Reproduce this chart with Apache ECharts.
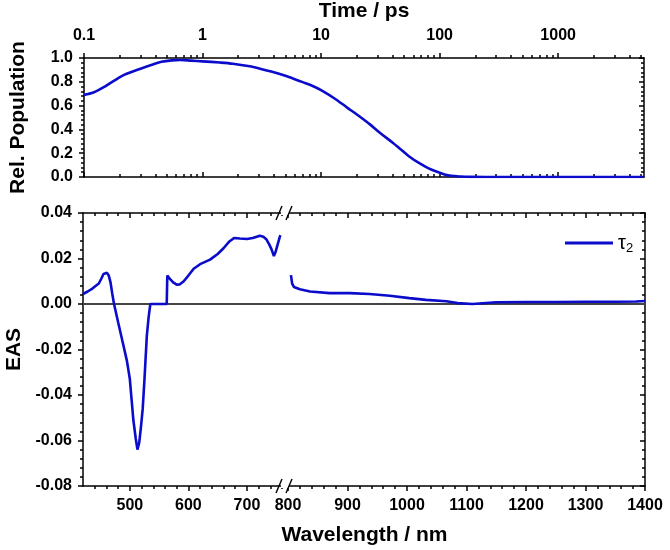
<!DOCTYPE html>
<html><head><meta charset="utf-8">
<script src="https://cdn.jsdelivr.net/npm/echarts@6/dist/echarts.min.js"></script>
<style>html,body{margin:0;padding:0;background:#fff}#c{width:670px;height:550px}</style>
</head><body><div id="c"></div>
<script>
// ---- data ----
const timePs = [0.1,0.12,0.15,0.18,0.22,0.3,0.38,0.45,0.55,0.65,0.8,1.0,1.4,1.8,2.5,3.0,4.0,5.0,6.0,7.0,8.5,10,13,16.5,21,26,31.5,40,46,55,68,80,95,110,125,150,180,250,5300];
const relPop = [0.69,0.71,0.76,0.81,0.86,0.91,0.945,0.968,0.98,0.983,0.978,0.972,0.962,0.952,0.93,0.912,0.88,0.85,0.822,0.797,0.765,0.73,0.66,0.585,0.51,0.44,0.37,0.29,0.24,0.175,0.114,0.075,0.044,0.022,0.01,0.004,0.001,0,0];

const wlVis = [420,428,436,442,447,451,455,458,461,464,467,470,473,480,488,495,500,503,506,510,513,516,519,522,525,529,532,535,563,564,568,574,580,585,592,600,609,620,637,650,660,670,678,688,700,710,722,728,733,738,742,746,749,752,757];
const easVis = [0.0044,0.0055,0.0068,0.0080,0.0090,0.0110,0.0132,0.0140,0.0137,0.0125,0.0095,0.0045,0,-0.008,-0.017,-0.025,-0.033,-0.042,-0.051,-0.059,-0.064,-0.061,-0.054,-0.046,-0.033,-0.014,-0.006,0,0,0.0125,0.0112,0.0095,0.0085,0.0086,0.0100,0.0125,0.0155,0.0175,0.0195,0.0220,0.0245,0.0275,0.0290,0.0288,0.0286,0.0290,0.0300,0.0296,0.0285,0.0262,0.0240,0.0211,0.0230,0.0258,0.0303];

const wlNir = [805,807,810,820,837,870,904,937,971,1004,1032,1066,1085,1088,1110,1113,1150,1200,1250,1300,1350,1385,1400];
const easNir = [0.0127,0.0090,0.0075,0.0065,0.0055,0.0048,0.0048,0.0044,0.0036,0.0026,0.0018,0.0012,0.0004,0,0,0.0008,0.0008,0.0009,0.0009,0.0010,0.0010,0.0011,0.0013];

const timeTicks = [0.1,1,10,100,1000];
const wlTicksVis = [500,600,700];
const wlTicksNir = [800,900,1000,1100,1200,1300,1400];
const popTickStep = 0.2;
const easTickStep = 0.02;

// ---- layout / style ----
const FONT = 'Liberation Sans, Arial, sans-serif';
const BLUE = '#0b0bcc';
const L = 83, R = 644, T0 = 57, B0 = 177, T1 = 213, B1 = 486, BRK = 285;
const TMIN = 0.1, TMAX = 5300;
const VIS = [420, 765], NIR = [795, 1400];

function logMinors(min, max) {
  const out = [];
  for (let d = min; d <= max; d *= 10) {
    for (let k = 2; k <= 9; k++) { const v = +(d * k).toPrecision(3); if (v <= max) out.push(v); }
  }
  return out;
}
function linMinors(majors, step, lo, hi) {
  const out = [];
  const s = Math.ceil(lo / step) * step;
  for (let v = s; v <= hi + 1e-9; v += step) {
    if (!majors.some(m => Math.abs(m - v) < 1e-6)) out.push(+v.toFixed(6));
  }
  return out;
}
const lbl = { fontFamily: FONT, fontSize: 16, fontWeight: 'bold', color: '#000' };
const axLine = { show: true, onZero: false, lineStyle: { color: '#000', width: 1.5 } };
const TICKW = 1.5;

function xAx(o) {
  return Object.assign({
    type: 'value', gridIndex: o.grid, position: o.pos, min: o.min, max: o.max,
    axisLine: o.line ? axLine : { show: false, onZero: false },
    axisTick: { show: true, customValues: o.ticks, length: o.len, inside: o.inside, lineStyle: { color: '#000', width: TICKW } },
    axisLabel: o.labels ? Object.assign({ show: true, customValues: o.labels, margin: o.margin || 12, formatter: o.fmt }, lbl) : { show: false },
    splitLine: { show: false }
  }, o.extra || {});
}

const tMin = logMinors(TMIN, TMAX);
const visMin = linMinors(wlTicksVis, 20, 440, 760);
const nirMin = linMinors(wlTicksNir, 20, 800, 1400);
const tFmt = v => String(+(+v).toPrecision(3));
const nFmt = v => String(Math.round(v));

const xAxes = [
  xAx({grid:0,pos:'top',min:TMIN,max:TMAX,line:true,ticks:timeTicks,len:5,inside:false,labels:timeTicks,fmt:tFmt,margin:14,
       extra:{type:'log',logBase:10,name:'Time / ps',nameLocation:'middle',nameGap:36,
              nameTextStyle:{fontFamily:FONT,fontSize:21,fontWeight:'bold',color:'#000'}}}),
  xAx({grid:0,pos:'top',min:TMIN,max:TMAX,line:false,ticks:tMin,len:3,inside:false,extra:{type:'log',logBase:10}}),
  xAx({grid:0,pos:'bottom',min:TMIN,max:TMAX,line:true,ticks:timeTicks,len:5,inside:true,extra:{type:'log',logBase:10}}),
  xAx({grid:0,pos:'bottom',min:TMIN,max:TMAX,line:false,ticks:tMin,len:3,inside:true,extra:{type:'log',logBase:10}}),
  xAx({grid:1,pos:'bottom',min:VIS[0],max:VIS[1],line:true,ticks:wlTicksVis,len:5,inside:false,labels:wlTicksVis,fmt:nFmt,margin:12}),
  xAx({grid:1,pos:'bottom',min:VIS[0],max:VIS[1],line:false,ticks:visMin,len:3,inside:false}),
  xAx({grid:1,pos:'top',min:VIS[0],max:VIS[1],line:true,ticks:wlTicksVis,len:5,inside:true}),
  xAx({grid:1,pos:'top',min:VIS[0],max:VIS[1],line:false,ticks:visMin,len:3,inside:true}),
  xAx({grid:2,pos:'bottom',min:NIR[0],max:NIR[1],line:true,ticks:wlTicksNir,len:5,inside:false,labels:wlTicksNir,fmt:nFmt,margin:12}),
  xAx({grid:2,pos:'bottom',min:NIR[0],max:NIR[1],line:false,ticks:nirMin,len:3,inside:false}),
  xAx({grid:2,pos:'top',min:NIR[0],max:NIR[1],line:true,ticks:wlTicksNir,len:5,inside:true}),
  xAx({grid:2,pos:'top',min:NIR[0],max:NIR[1],line:false,ticks:nirMin,len:3,inside:true})
];

function yAx(o) {
  return {
    type: 'value', gridIndex: o.grid, position: o.pos, min: o.min, max: o.max, interval: o.step,
    axisLine: axLine,
    axisTick: { show: true, length: 5, inside: o.inside, lineStyle: { color: '#000', width: TICKW } },
    minorTick: { show: true, splitNumber: 5, length: 3, lineStyle: { color: '#000', width: TICKW } },
    axisLabel: o.labels ? Object.assign({ show: true, margin: 11, formatter: o.fmt }, lbl) : { show: false },
    splitLine: { show: false },
    name: o.name || '', nameLocation: 'middle', nameGap: o.nameGap || 0,
    nameTextStyle: { fontFamily: FONT, fontSize: 21, fontWeight: 'bold', color: '#000' }
  };
}
const yAxes = [
  yAx({grid:0,pos:'left',min:0,max:1,step:popTickStep,inside:false,labels:true,fmt:v=>(+v).toFixed(1),name:'Rel. Population',nameGap:55}),
  yAx({grid:0,pos:'right',min:0,max:1,step:popTickStep,inside:true,labels:false}),
  yAx({grid:1,pos:'left',min:-0.08,max:0.04,step:easTickStep,inside:false,labels:true,fmt:v=>(+v).toFixed(2),name:'EAS',nameGap:58}),
  yAx({grid:2,pos:'right',min:-0.08,max:0.04,step:easTickStep,inside:true,labels:false})
];

const zip = (a, b) => a.map((v, i) => [v, b[i]]);
const zeroLine = { silent: true, symbol: 'none', z: 1, label: { show: false },
  lineStyle: { color: '#444', width: 1.8, type: 'solid' }, data: [{ yAxis: 0 }] };
const lineStyle = { color: BLUE, width: 2.6 };

const brkG = [];
[T1, B1].forEach(y => {
  brkG.push({ type: 'rect', shape: { x: BRK - 4, y: y - 2, width: 8, height: 4 }, style: { fill: '#fff' }, z: 100 });
  brkG.push({ type: 'line', shape: { x1: BRK - 9, y1: y + 7, x2: BRK - 3, y2: y - 7 }, style: { stroke: '#000', lineWidth: 1.4 }, z: 101 });
  brkG.push({ type: 'line', shape: { x1: BRK + 1, y1: y + 7, x2: BRK + 7, y2: y - 7 }, style: { stroke: '#000', lineWidth: 1.4 }, z: 101 });
});
brkG.push({ type: 'text', x: (L + R) / 2 + 1, y: 535, z: 100,
  style: { text: 'Wavelength / nm', fontFamily: FONT, fontSize: 21, fontWeight: 'bold', fill: '#000', textAlign: 'center', textVerticalAlign: 'middle' } });

const chart = echarts.init(document.getElementById('c'));
chart.setOption({
  backgroundColor: '#fff',
  animation: false,
  grid: [
    { left: L, top: T0, width: R - L, height: B0 - T0 },
    { left: L, top: T1, width: BRK - L, height: B1 - T1 },
    { left: BRK, top: T1, width: R + 1 - BRK, height: B1 - T1 }
  ],
  xAxis: xAxes,
  yAxis: yAxes,
  legend: {
    data: ['τ2'], left: 560, top: 228, itemWidth: 48, itemHeight: 3, icon: 'rect', itemGap: 4,
    formatter: () => '{t|τ}{s|2}',
    textStyle: { rich: { t: { fontFamily: FONT, fontSize: 20, color: '#000' }, s: { fontFamily: FONT, fontSize: 13, color: '#000', padding: [10, 0, 0, 0] } } }
  },
  series: [
    { name: 'Rel. Population', type: 'line', xAxisIndex: 0, yAxisIndex: 0, data: zip(timePs, relPop), showSymbol: false, smooth: 0.3, lineStyle, itemStyle: { color: BLUE }, z: 3 },
    { name: 'τ2', type: 'line', xAxisIndex: 4, yAxisIndex: 2, data: zip(wlVis, easVis), showSymbol: false, lineStyle, itemStyle: { color: BLUE }, markLine: zeroLine, z: 3 },
    { name: 'τ2', type: 'line', xAxisIndex: 8, yAxisIndex: 3, data: zip(wlNir, easNir), showSymbol: false, lineStyle, itemStyle: { color: BLUE }, markLine: zeroLine, z: 3 }
  ],
  graphic: brkG
});
</script></body></html>
